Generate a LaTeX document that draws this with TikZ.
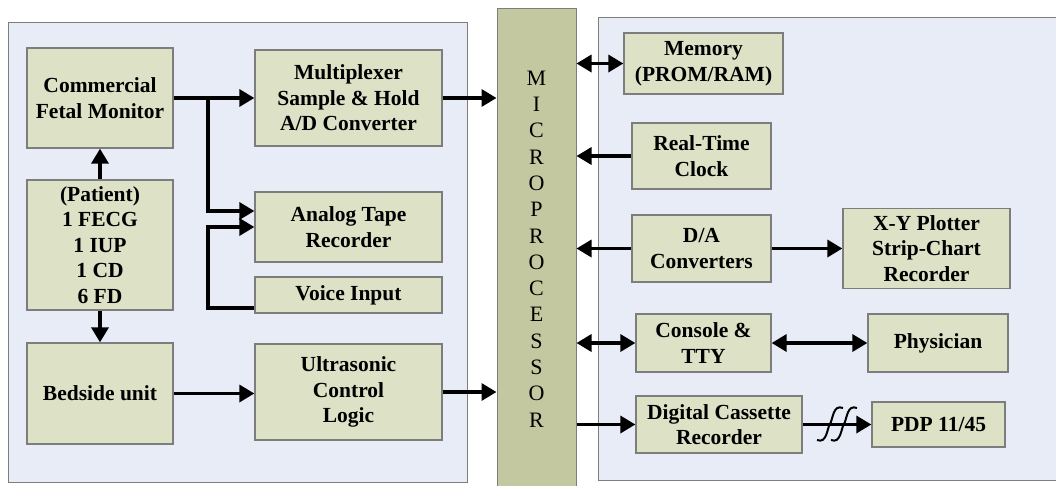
\documentclass[tikz,border=0pt]{standalone}
\usepackage{fontspec}
\setmainfont{Liberation Serif}
\usetikzlibrary{arrows.meta}

\definecolor{panelfill}{RGB}{232,236,247}
\definecolor{boxfill}{RGB}{221,225,197}
\definecolor{barfill}{RGB}{196,200,160}
\definecolor{edgegray}{RGB}{125,125,125}

\tikzset{
  blk/.style={draw=edgegray, line width=1.3pt, fill=boxfill, align=center, inner sep=2pt,
    font=\fontsize{21.5}{25.5}\selectfont\bfseries},
  panel/.style={draw=edgegray, line width=1pt, fill=panelfill},
  link/.style={line width=3.4pt, -{Triangle[length=15pt,width=17pt]}},
  duplex/.style={line width=3.4pt, {Triangle[length=15pt,width=17pt]}-{Triangle[length=15pt,width=17pt]}},
}

\begin{document}
\begin{tikzpicture}[x=1pt, y=-1pt]
    \useasboundingbox (0,0) rectangle (1056,485);
    % background panels
    \draw[panel] (8,22) rectangle (467,482);
    \draw[panel] (598,17) rectangle (1062,480);
    \node[draw=edgegray, line width=1pt, fill=barfill, minimum width=79pt, minimum height=482pt,
      align=center, font=\fontsize{22}{26.3}\selectfont] (micro) at (536.5,249)
      {M\\I\\C\\R\\O\\P\\R\\O\\C\\E\\S\\S\\O\\R};

    % acquisition side
    \node[blk, minimum width=146pt, minimum height=100pt] (monitor) at (100,98) {Commercial\\Fetal Monitor};
    \node[blk, minimum width=187pt, minimum height=96pt] (mux) at (348.5,98) {Multiplexer\\Sample \& Hold\\A/D Converter};
    \node[blk, minimum width=146pt, minimum height=130pt] (patient) at (100,245) {(Patient)\\1 FECG\\1 IUP\\1 CD\\6 FD};
    \node[blk, minimum width=187pt, minimum height=70pt] (tape) at (348.5,227) {Analog Tape\\Recorder};
    \node[blk, minimum width=187pt, minimum height=36pt] (voice) at (348.5,295) {Voice Input};
    \node[blk, minimum width=146pt, minimum height=101pt] (bedside) at (100,393.5) {Bedside unit};
    \node[blk, minimum width=187pt, minimum height=96pt] (ultra) at (348.5,392) {Ultrasonic\\Control\\Logic};

    % peripheral side
    \node[blk, minimum width=159pt, minimum height=61pt] (memory) at (703.5,63.5) {Memory\\(PROM/RAM)};
    \node[blk, minimum width=139pt, minimum height=66pt] (clock) at (701.5,156) {Real-Time\\Clock};
    \node[blk, minimum width=139pt, minimum height=67pt] (dac) at (701.5,248.5) {D/A\\Converters};
    \node[blk, minimum width=167pt, minimum height=80pt] (plotter) at (926.5,248.5) {X-Y Plotter\\Strip-Chart\\Recorder};
    \node[blk, minimum width=135pt, minimum height=58pt] (console) at (703.5,343) {Console \&\\TTY};
    \node[blk, minimum width=140pt, minimum height=58pt] (physician) at (938,343) {Physician};
    \node[blk, minimum width=166pt, minimum height=57pt] (cassette) at (719,424.5) {Digital Cassette\\Recorder};
    \node[blk, minimum width=133pt, minimum height=45pt] (pdp) at (938.5,424.5) {PDP 11/45};

    % connectors, left
    \coordinate (split) at (208,98);
    \draw[link] (monitor.east) -- (mux.west);
    \draw[link] (split) |- ([yshift=16pt]tape.west);
    \draw[link] ([yshift=-13pt]voice.west) -| (split |- tape.west) -- (tape.west);
    \draw[link] (patient.north) -- (monitor.south);
    \draw[link] (patient.south) -- (bedside.north);
    \draw[link] (bedside.east) -- (ultra.west |- bedside.east);
    \draw[link] (mux.east) -- (micro.west |- mux.east);
    \draw[link] (ultra.east) -- (micro.west |- ultra.east);

    % connectors, right
    \draw[duplex] (micro.east |- memory.west) -- (memory.west);
    \draw[link] (clock.west) -- (micro.east |- clock.west);
    \draw[link] (dac.west) -- (micro.east |- dac.west);
    \draw[link] (dac.east) -- (plotter.west);
    \draw[duplex] (micro.east |- console.west) -- (console.west);
    \draw[duplex] (console.east) -- (physician.west);
    \draw[link] (micro.east |- cassette.west) -- (cassette.west);
    \draw[link] (cassette.east) -- (pdp.west);
    % break marks on the cassette line
    \foreach \bx in {830,844}
      \draw[line width=2pt] (\bx-13,440) .. controls (\bx-3,444) and (\bx-3,428) .. (\bx,424)
        .. controls (\bx+3,419) and (\bx+3,404) .. (\bx+13,408);
\end{tikzpicture}
\end{document}
